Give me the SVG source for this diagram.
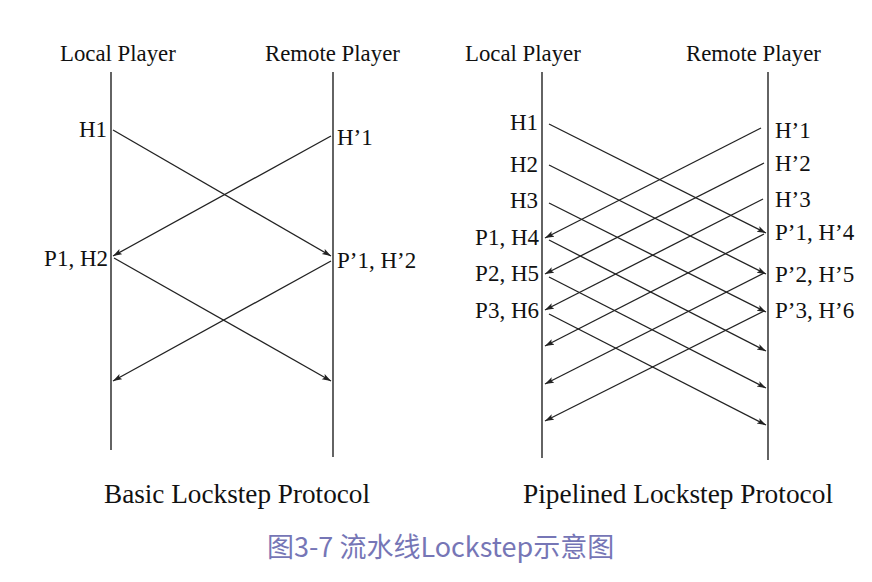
<svg xmlns="http://www.w3.org/2000/svg" width="872" height="582" viewBox="0 0 872 582">
<style>
.t{font-family:"Liberation Serif","Times New Roman",serif;font-size:22.8px;fill:#111}
.lbl{font-family:"Liberation Serif","Times New Roman",serif;font-size:23px;fill:#111}
.ttl{font-family:"Liberation Serif","Times New Roman",serif;font-size:27.4px;fill:#111}
.cap{font-family:"Noto Sans CJK SC","Noto Sans",sans-serif;font-size:27px;fill:#7676b6}
.life{stroke:#222;stroke-width:1.4;fill:none}
.msg{stroke:#222;stroke-width:1.3;fill:none;marker-end:url(#ah)}
.r{text-anchor:end}
</style>
<defs>
<marker id="ah" markerUnits="userSpaceOnUse" markerWidth="10" markerHeight="8" refX="9" refY="3" orient="auto">
<path d="M0,0 L9,3 L0,6 L2,3 z" fill="#222"/>
</marker>
</defs>
<rect width="872" height="582" fill="#fff"/>

<g id="basic">
<g id="basic-local">
<text class="t" x="60" y="61">Local Player</text>
<line class="life" x1="111" y1="72" x2="111" y2="450"/>
<text class="lbl r" x="107" y="137">H1</text>
<text class="lbl r" x="108" y="266">P1, H2</text>
</g>
<g id="basic-remote">
<text class="t" x="265" y="61">Remote Player</text>
<line class="life" x1="333" y1="72" x2="333" y2="457"/>
<text class="lbl" x="337" y="145">H’1</text>
<text class="lbl" x="337" y="268">P’1, H’2</text>
</g>
<text id="basic-title" class="ttl" x="104" y="503" textLength="266" lengthAdjust="spacingAndGlyphs">Basic Lockstep Protocol</text>
</g>

<g id="pipelined">
<g id="pipe-local">
<text class="t" x="465" y="61">Local Player</text>
<line class="life" x1="542" y1="72" x2="542" y2="458"/>
<text class="lbl r" x="538" y="130">H1</text>
<text class="lbl r" x="538" y="172">H2</text>
<text class="lbl r" x="538" y="208">H3</text>
<text class="lbl r" x="539" y="245">P1, H4</text>
<text class="lbl r" x="539" y="281">P2, H5</text>
<text class="lbl r" x="539" y="318">P3, H6</text>
</g>
<g id="pipe-remote">
<text class="t" x="686" y="61">Remote Player</text>
<line class="life" x1="768" y1="72" x2="768" y2="460"/>
<text class="lbl" x="775" y="138">H’1</text>
<text class="lbl" x="775" y="171">H’2</text>
<text class="lbl" x="775" y="207">H’3</text>
<text class="lbl" x="775" y="240">P’1, H’4</text>
<text class="lbl" x="775" y="282">P’2, H’5</text>
<text class="lbl" x="775" y="318">P’3, H’6</text>
</g>
<text id="pipe-title" class="ttl" x="523" y="503" textLength="310" lengthAdjust="spacingAndGlyphs">Pipelined Lockstep Protocol</text>
</g>

<g id="connectors">
<line class="msg" x1="113" y1="130" x2="331" y2="256"/>
<line class="msg" x1="331" y1="136" x2="113" y2="256"/>
<line class="msg" x1="114" y1="258" x2="331" y2="381"/>
<line class="msg" x1="331" y1="261" x2="113" y2="381"/>

<line class="msg" x1="549" y1="124" x2="766" y2="233"/>
<line class="msg" x1="549" y1="165" x2="766" y2="274"/>
<line class="msg" x1="549" y1="203" x2="766" y2="312"/>
<line class="msg" x1="549" y1="240" x2="766" y2="351"/>
<line class="msg" x1="549" y1="277" x2="766" y2="388"/>
<line class="msg" x1="549" y1="314" x2="766" y2="425"/>

<line class="msg" x1="761" y1="128" x2="545" y2="238"/>
<line class="msg" x1="764" y1="163" x2="545" y2="274"/>
<line class="msg" x1="763" y1="199" x2="545" y2="310"/>
<line class="msg" x1="764" y1="234" x2="545" y2="346"/>
<line class="msg" x1="764" y1="273" x2="545" y2="384"/>
<line class="msg" x1="764" y1="311" x2="545" y2="421"/>
</g>

<text id="caption" class="cap" x="267" y="557">图3-7 流水线Lockstep示意图</text>
</svg>
